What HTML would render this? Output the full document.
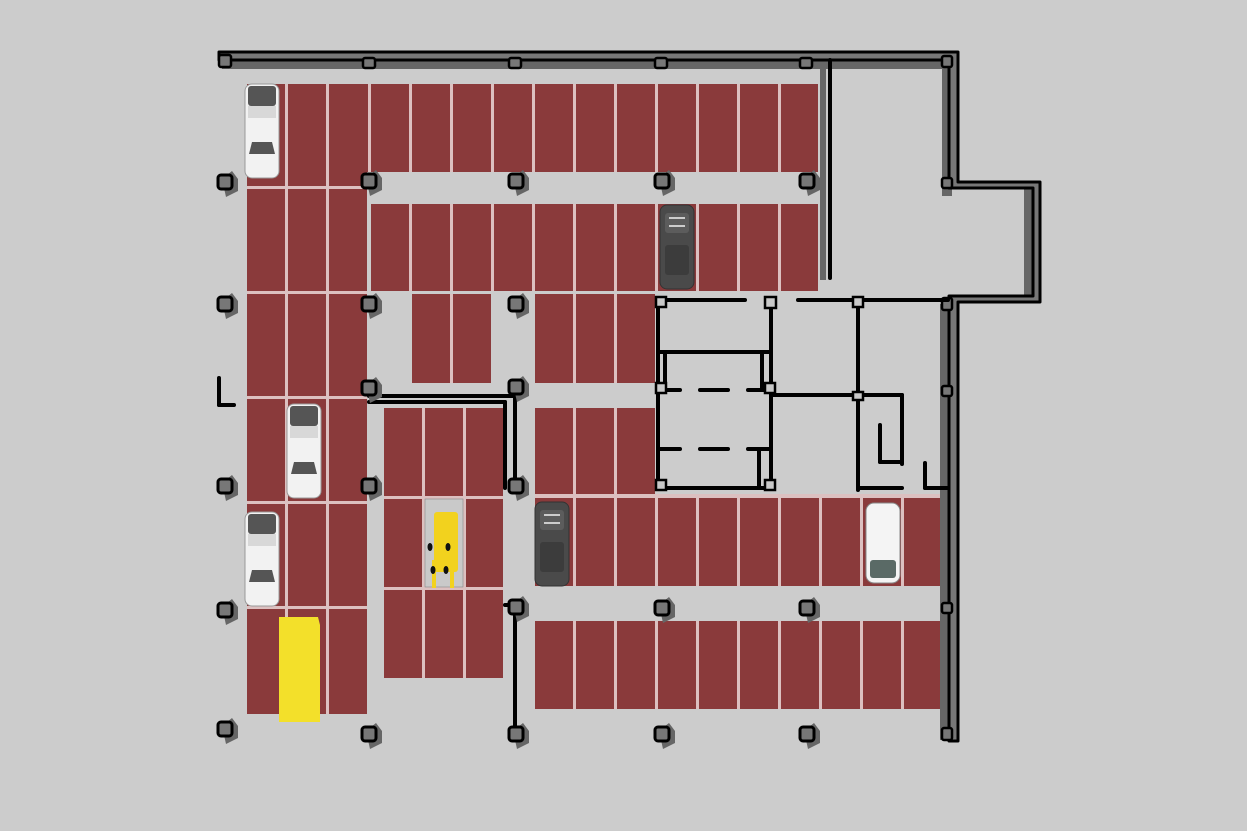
<!DOCTYPE html>
<html><head><meta charset="utf-8"><style>
html,body{margin:0;padding:0;background:#cccccc;}
svg{display:block}
</style></head><body>
<svg width="1247" height="831" viewBox="0 0 1247 831" xmlns="http://www.w3.org/2000/svg">
<defs>
<g id="pil"><polygon points="4,4 14,-4 20,4 20,16 8,22" fill="#666"/><rect x="0" y="0" width="14" height="14" rx="3" fill="#777" stroke="#000" stroke-width="3"/></g>
<g id="wcar">
<rect x="0" y="0" width="34" height="94" rx="7" fill="#f2f2f2" stroke="#999" stroke-width="1"/>
<rect x="3" y="2" width="28" height="20" rx="3" fill="#555"/>
<rect x="3" y="22" width="28" height="12" fill="#d8d8d8"/>
<path d="M4 70 L30 70 L27 58 L7 58 Z" fill="#555"/>
</g>
<g id="dcar">
<rect x="0" y="0" width="34" height="84" rx="7" fill="#4a4a4a" stroke="#333"/>
<rect x="5" y="8" width="24" height="20" rx="3" fill="#5c5c5c"/>
<rect x="9" y="12" width="16" height="2" fill="#ccc"/>
<rect x="9" y="20" width="16" height="2" fill="#ccc"/>
<rect x="5" y="40" width="24" height="30" rx="3" fill="#3c3c3c"/>
</g>
</defs>
<rect width="1247" height="831" fill="#cccccc"/>

<!-- wall shadows -->
<g fill="#666">
<rect x="222" y="60" width="728" height="9"/>
<rect x="942" y="60" width="8" height="120"/>
<rect x="942" y="188" width="10" height="8"/>
<rect x="1024" y="188" width="10" height="108"/>
<rect x="940" y="304" width="8" height="436"/>
<rect x="820" y="62" width="6" height="218"/>
</g>
<!-- pinkish underlays -->
<g fill="#dcc0c0">
<rect x="247" y="84" width="120" height="630"/>
<rect x="367" y="84" width="451" height="88"/>
<rect x="371" y="204" width="447" height="87"/>
<rect x="412" y="294" width="79" height="89"/>
<rect x="535" y="294" width="120" height="89"/>
<rect x="384" y="408" width="119" height="270"/>
<rect x="535" y="408" width="120" height="86"/>
<rect x="535" y="494" width="405" height="92"/>
<rect x="535" y="621" width="405" height="88"/>
</g>
<g fill="#8a3a3b">
<rect x="247" y="84" width="38" height="102"/><rect x="288" y="84" width="38" height="102"/><rect x="329" y="84" width="38" height="102"/>
<rect x="247" y="189" width="38" height="102"/><rect x="288" y="189" width="38" height="102"/><rect x="329" y="189" width="38" height="102"/>
<rect x="247" y="294" width="38" height="102"/><rect x="288" y="294" width="38" height="102"/><rect x="329" y="294" width="38" height="102"/>
<rect x="247" y="399" width="38" height="102"/><rect x="288" y="399" width="38" height="102"/><rect x="329" y="399" width="38" height="102"/>
<rect x="247" y="504" width="38" height="102"/><rect x="288" y="504" width="38" height="102"/><rect x="329" y="504" width="38" height="102"/>
<rect x="247" y="609" width="38" height="105"/><rect x="288" y="609" width="38" height="105"/><rect x="329" y="609" width="38" height="105"/>
<rect x="367" y="84" width="1" height="88"/>
<rect x="371" y="84" width="38" height="88"/><rect x="412" y="84" width="38" height="88"/><rect x="453" y="84" width="38" height="88"/><rect x="494" y="84" width="38" height="88"/><rect x="535" y="84" width="38" height="88"/><rect x="576" y="84" width="38" height="88"/><rect x="617" y="84" width="38" height="88"/><rect x="658" y="84" width="38" height="88"/><rect x="699" y="84" width="38" height="88"/><rect x="740" y="84" width="38" height="88"/><rect x="781" y="84" width="37" height="88"/>
<rect x="371" y="204" width="38" height="87"/><rect x="412" y="204" width="38" height="87"/><rect x="453" y="204" width="38" height="87"/><rect x="494" y="204" width="38" height="87"/><rect x="535" y="204" width="38" height="87"/><rect x="576" y="204" width="38" height="87"/><rect x="617" y="204" width="38" height="87"/><rect x="658" y="204" width="38" height="87"/><rect x="699" y="204" width="38" height="87"/><rect x="740" y="204" width="38" height="87"/><rect x="781" y="204" width="37" height="87"/>
<rect x="412" y="294" width="38" height="89"/><rect x="453" y="294" width="38" height="89"/>
<rect x="535" y="294" width="38" height="89"/><rect x="576" y="294" width="38" height="89"/><rect x="617" y="294" width="38" height="89"/>
<rect x="384" y="408" width="38" height="88"/><rect x="425" y="408" width="38" height="88"/><rect x="466" y="408" width="37" height="88"/>
<rect x="384" y="499" width="38" height="88"/><rect x="466" y="499" width="37" height="88"/>
<rect x="384" y="590" width="38" height="88"/><rect x="425" y="590" width="38" height="88"/><rect x="466" y="590" width="37" height="88"/>
<rect x="535" y="408" width="38" height="86"/><rect x="576" y="408" width="38" height="86"/><rect x="617" y="408" width="38" height="86"/>
<rect x="535" y="498" width="38" height="88"/><rect x="576" y="498" width="38" height="88"/><rect x="617" y="498" width="38" height="88"/><rect x="658" y="498" width="38" height="88"/><rect x="699" y="498" width="38" height="88"/><rect x="740" y="498" width="38" height="88"/><rect x="781" y="498" width="38" height="88"/><rect x="822" y="498" width="38" height="88"/><rect x="863" y="498" width="38" height="88"/><rect x="904" y="498" width="36" height="88"/>
<rect x="535" y="621" width="38" height="88"/><rect x="576" y="621" width="38" height="88"/><rect x="617" y="621" width="38" height="88"/><rect x="658" y="621" width="38" height="88"/><rect x="699" y="621" width="38" height="88"/><rect x="740" y="621" width="38" height="88"/><rect x="781" y="621" width="38" height="88"/><rect x="822" y="621" width="38" height="88"/><rect x="863" y="621" width="38" height="88"/><rect x="904" y="621" width="36" height="88"/>
</g>
<rect x="425" y="499" width="38" height="88" fill="#c9c9c9" stroke="#888" stroke-width="0.6"/>
<g fill="#f2d21e">
<rect x="434" y="512" width="24" height="60" rx="3"/>
<rect x="432" y="560" width="4" height="28"/><rect x="450" y="560" width="4" height="28"/>
</g>
<g fill="#111"><ellipse cx="430" cy="547" rx="2.5" ry="4"/><ellipse cx="448" cy="547" rx="2.5" ry="4"/><ellipse cx="433" cy="570" rx="2.5" ry="4"/><ellipse cx="446" cy="570" rx="2.5" ry="4"/></g>
<path d="M279 617 L318 617 L320 625 L320 722 L279 722 Z" fill="#f3e02a"/>

<g fill="#777" stroke="#000" stroke-width="3" stroke-linejoin="round">
<path d="M219 52 L958 52 L958 182 L1040 182 L1040 302 L958 302 L958 741 L949 741 L949 296 L1033 296 L1033 188 L949 188 L949 60 L219 60 Z"/>
</g>
<g fill="#777" stroke="#000" stroke-width="2.5">
<rect x="219" y="55" width="12" height="12" rx="2"/>
<rect x="363" y="58" width="12" height="10" rx="2"/>
<rect x="509" y="58" width="12" height="10" rx="2"/>
<rect x="655" y="58" width="12" height="10" rx="2"/>
<rect x="800" y="58" width="12" height="10" rx="2"/>
<rect x="942" y="56" width="10" height="11" rx="2"/>
<rect x="942" y="178" width="10" height="10" rx="2"/>
<rect x="942" y="298" width="10" height="12" rx="2"/>
<rect x="942" y="386" width="10" height="10" rx="2"/>
<rect x="942" y="603" width="10" height="10" rx="2"/>
<rect x="942" y="728" width="10" height="12" rx="2"/>
</g>
<g stroke="#000" stroke-width="4" fill="none" stroke-linecap="round">
<line x1="830" y1="60" x2="830" y2="278"/>
<line x1="798" y1="300" x2="948" y2="300"/>
<line x1="658" y1="300" x2="745" y2="300"/>
<line x1="658" y1="300" x2="658" y2="488"/>
<line x1="771" y1="300" x2="771" y2="488"/>
<line x1="658" y1="352" x2="771" y2="352"/>
<line x1="665" y1="352" x2="665" y2="390"/><line x1="762" y1="352" x2="762" y2="390"/>
<line x1="658" y1="390" x2="680" y2="390"/><line x1="700" y1="390" x2="728" y2="390"/><line x1="748" y1="390" x2="771" y2="390"/>
<line x1="658" y1="449" x2="680" y2="449"/><line x1="700" y1="449" x2="728" y2="449"/><line x1="748" y1="449" x2="771" y2="449"/>
<line x1="759" y1="451" x2="759" y2="488"/>
<line x1="658" y1="488" x2="771" y2="488"/>
<line x1="771" y1="395" x2="858" y2="395"/>
<line x1="858" y1="302" x2="858" y2="490"/>
<line x1="858" y1="395" x2="902" y2="395"/><line x1="902" y1="395" x2="902" y2="464"/>
<line x1="880" y1="425" x2="880" y2="462"/><line x1="880" y1="462" x2="902" y2="462"/>
<line x1="858" y1="488" x2="902" y2="488"/>
<line x1="925" y1="463" x2="925" y2="488"/><line x1="925" y1="488" x2="948" y2="488"/>
<line x1="369" y1="396" x2="515" y2="396"/>
<line x1="369" y1="402" x2="505" y2="402"/><line x1="505" y1="402" x2="505" y2="488"/>
<line x1="515" y1="385" x2="515" y2="488"/>
<line x1="515" y1="605" x2="515" y2="735"/><line x1="505" y1="605" x2="515" y2="605"/>
<line x1="219" y1="378" x2="219" y2="405"/><line x1="219" y1="405" x2="234" y2="405"/>
</g>
<use href="#pil" x="218" y="175"/><use href="#pil" x="362" y="174"/><use href="#pil" x="509" y="174"/><use href="#pil" x="655" y="174"/><use href="#pil" x="800" y="174"/>
<use href="#pil" x="218" y="297"/><use href="#pil" x="362" y="297"/><use href="#pil" x="509" y="297"/>
<use href="#pil" x="362" y="381"/><use href="#pil" x="509" y="380"/>
<use href="#pil" x="218" y="479"/><use href="#pil" x="362" y="479"/><use href="#pil" x="509" y="479"/>
<use href="#pil" x="218" y="603"/><use href="#pil" x="509" y="600"/><use href="#pil" x="655" y="601"/><use href="#pil" x="800" y="601"/>
<use href="#pil" x="218" y="722"/><use href="#pil" x="362" y="727"/><use href="#pil" x="509" y="727"/><use href="#pil" x="655" y="727"/><use href="#pil" x="800" y="727"/>
<g fill="#c9c9c9" stroke="#000" stroke-width="2.5">
<rect x="656" y="297" width="10" height="10"/><rect x="765" y="297" width="11" height="11"/><rect x="853" y="297" width="10" height="10"/>
<rect x="656" y="383" width="10" height="10"/><rect x="765" y="383" width="10" height="10"/><rect x="853" y="392" width="10" height="8"/>
<rect x="656" y="480" width="10" height="10"/><rect x="765" y="480" width="10" height="10"/>
</g>
<use href="#wcar" x="245" y="84"/>
<use href="#wcar" x="287" y="404"/>
<use href="#wcar" x="245" y="512"/>
<use href="#dcar" x="660" y="205"/>
<use href="#dcar" x="535" y="502"/>
<g>
<rect x="866" y="503" width="34" height="80" rx="8" fill="#f4f4f4" stroke="#888"/>
<rect x="870" y="560" width="26" height="18" rx="3" fill="#5a6a66"/>
</g>
</svg>
</body></html>
